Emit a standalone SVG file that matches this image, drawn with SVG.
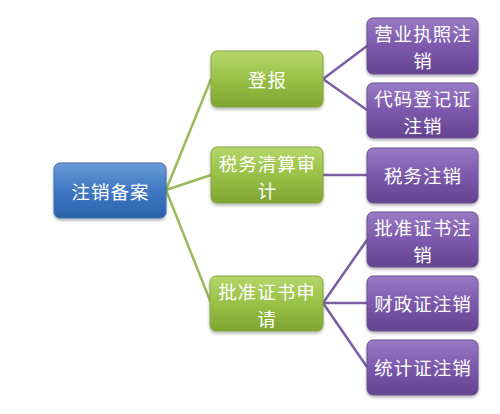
<svg xmlns="http://www.w3.org/2000/svg" width="500" height="414" viewBox="0 0 500 414">
<defs>
<linearGradient id="gBlue" x1="0" y1="0" x2="0" y2="1">
<stop offset="0" stop-color="#6A9BD8"/>
<stop offset="0.5" stop-color="#3F78C3"/>
<stop offset="1" stop-color="#2B62AA"/>
</linearGradient>
<linearGradient id="gGreen" x1="0" y1="0" x2="0" y2="1">
<stop offset="0" stop-color="#B5D66A"/>
<stop offset="0.5" stop-color="#99C046"/>
<stop offset="1" stop-color="#7FA532"/>
</linearGradient>
<linearGradient id="gPurple" x1="0" y1="0" x2="0" y2="1">
<stop offset="0" stop-color="#9A7BC6"/>
<stop offset="0.5" stop-color="#7C59AC"/>
<stop offset="1" stop-color="#634390"/>
</linearGradient>
<filter id="sh" x="-10%" y="-10%" width="130%" height="140%">
<feDropShadow dx="0" dy="2" stdDeviation="1.5" flood-color="#000" flood-opacity="0.3"/>
</filter>
</defs>
<style>
.box{filter:url(#sh);}
.blue{fill:url(#gBlue);stroke:#3A6DAE;stroke-width:1;}
.green{fill:url(#gGreen);stroke:#86A845;stroke-width:1;}
.purple{fill:url(#gPurple);stroke:#6A4E92;stroke-width:1;}
.t{font-family:"Noto Sans CJK SC","Noto Sans",sans-serif;font-size:18.5px;letter-spacing:1px;fill:#FFFFFF;text-anchor:middle;dominant-baseline:central;}
.lg{stroke:#9BBB59;stroke-width:2.5;fill:none;}
.lp{stroke:#7A5FA5;stroke-width:2.5;fill:none;}
</style>
<rect width="500" height="414" fill="#FFFFFF"/>
<g id="connectors">
<line class="lg" x1="166" y1="190" x2="211" y2="79"/>
<line class="lg" x1="166" y1="190" x2="211" y2="175"/>
<line class="lg" x1="166" y1="190" x2="211" y2="303"/>
<line class="lp" x1="323" y1="79" x2="367" y2="46"/>
<line class="lp" x1="323" y1="79" x2="367" y2="110"/>
<line class="lp" x1="323" y1="175" x2="367" y2="175"/>
<line class="lp" x1="323" y1="303" x2="367" y2="240"/>
<line class="lp" x1="323" y1="303" x2="367" y2="303"/>
<line class="lp" x1="323" y1="303" x2="367" y2="367"/>
</g>
<g id="root">
<rect class="box blue" x="54" y="163" width="112" height="55" rx="6"/>
<text class="t" x="110.5" y="190.5" font-size="19.5">注销备案</text>
</g>
<g id="n-dengbao">
<rect class="box green" x="211" y="51" width="112" height="56" rx="6"/>
<text class="t" x="267.5" y="79">登报</text>
</g>
<g id="n-shuiwuqingsuan">
<rect class="box green" x="211" y="147" width="112" height="56" rx="6"/>
<text class="t" x="267.5" y="163">税务清算审</text>
<text class="t" x="267.5" y="190">计</text>
</g>
<g id="n-pizhunshenqing">
<rect class="box green" x="210" y="276" width="113" height="55" rx="6"/>
<text class="t" x="267" y="291">批准证书申</text>
<text class="t" x="267" y="318">请</text>
</g>
<g id="n-yingye">
<rect class="box purple" x="367" y="18" width="111" height="56" rx="6"/>
<text class="t" x="423" y="33">营业执照注</text>
<text class="t" x="423" y="60">销</text>
</g>
<g id="n-daima">
<rect class="box purple" x="367" y="83" width="111" height="55" rx="6"/>
<text class="t" x="423" y="97.5">代码登记证</text>
<text class="t" x="423" y="124.5">注销</text>
</g>
<g id="n-shuiwu">
<rect class="box purple" x="367" y="148" width="111" height="55" rx="6"/>
<text class="t" x="423" y="175">税务注销</text>
</g>
<g id="n-pizhun">
<rect class="box purple" x="367" y="212" width="111" height="55" rx="6"/>
<text class="t" x="423" y="226.5">批准证书注</text>
<text class="t" x="423" y="253.5">销</text>
</g>
<g id="n-caizheng">
<rect class="box purple" x="367" y="276" width="111" height="55" rx="6"/>
<text class="t" x="423" y="303">财政证注销</text>
</g>
<g id="n-tongji">
<rect class="box purple" x="367" y="340" width="111" height="55" rx="6"/>
<text class="t" x="423" y="367">统计证注销</text>
</g>
</svg>
